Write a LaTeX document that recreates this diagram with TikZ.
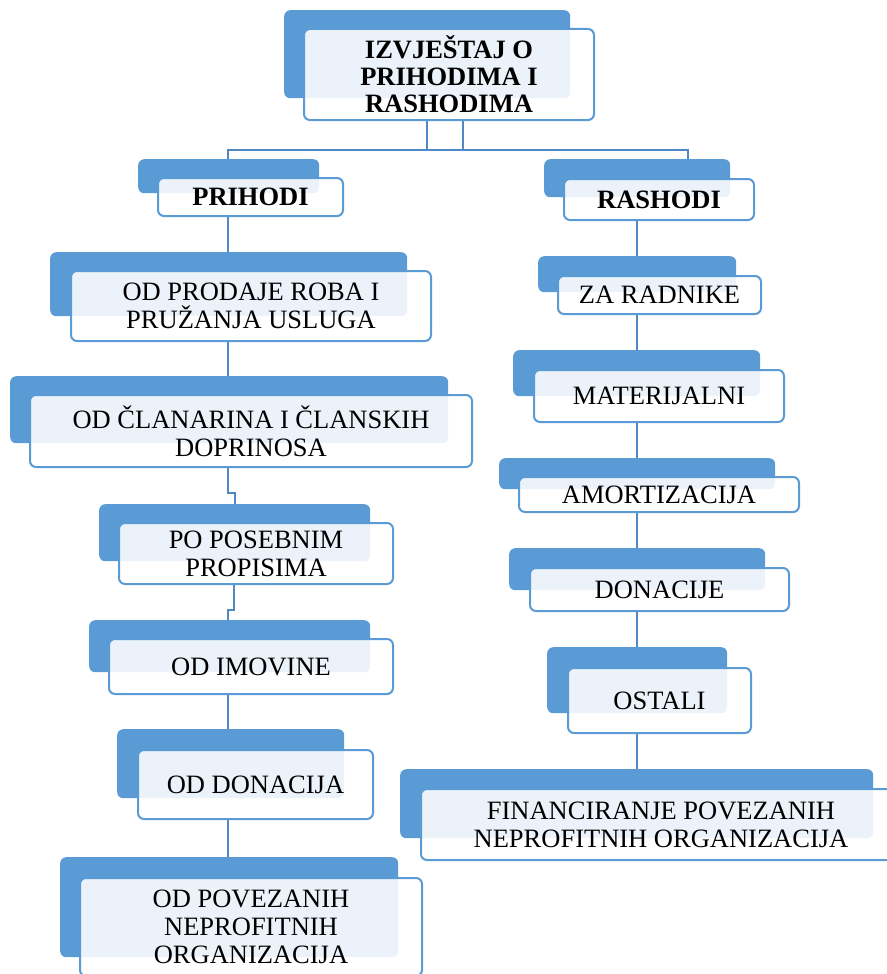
\documentclass[tikz,border=0pt]{standalone}
\usepackage{fontspec}
\setmainfont{Liberation Serif}
\usetikzlibrary{backgrounds}
\definecolor{bk}{HTML}{5B9BD5}
\definecolor{ln}{HTML}{5088C6}
\tikzset{
  backbox/.style={fill=bk, draw=none, rounded corners=6pt, inner sep=0pt, anchor=north west},
  frontbox/.style={draw=bk, line width=2pt, fill=white, fill opacity=0.88, text opacity=1,
    rounded corners=6pt, inner sep=0pt, anchor=north west, align=center,
    font=\fontsize{26.5}{28}\selectfont},
  conn/.style={draw=ln, line width=2.5pt}
}
\begin{document}
\begin{tikzpicture}[x=1pt,y=-1pt]
\useasboundingbox (0,0) rectangle (886,974);
% title
\node[backbox, minimum width=286pt, minimum height=88pt] (titleb) at (284,10) {};
\node[frontbox, minimum width=290pt, minimum height=91pt, font=\fontsize{26.5}{27}\selectfont\bfseries] (title) at (303,28) {IZVJEŠTAJ O\\PRIHODIMA I\\RASHODIMA};
% left column
\node[backbox, minimum width=181pt, minimum height=34pt] (prihb) at (138,159) {};
\node[frontbox, minimum width=185pt, minimum height=38pt, font=\fontsize{26.5}{28}\selectfont\bfseries] (prih) at (157,177) {PRIHODI};
\node[backbox, minimum width=357pt, minimum height=64pt] (b1b) at (50,252) {};
\node[frontbox, minimum width=360pt, minimum height=70pt] (b1) at (70,270) {OD PRODAJE ROBA I\\PRUŽANJA USLUGA};
\node[backbox, minimum width=438pt, minimum height=67pt] (b2b) at (10,376) {};
\node[frontbox, minimum width=442pt, minimum height=72pt] (b2) at (29,394) {OD ČLANARINA I ČLANSKIH\\DOPRINOSA};
\node[backbox, minimum width=271pt, minimum height=57pt] (b3b) at (99,504) {};
\node[frontbox, minimum width=274pt, minimum height=61pt] (b3) at (118,522) {PO POSEBNIM\\PROPISIMA};
\node[backbox, minimum width=281pt, minimum height=52pt] (b4b) at (89,620) {};
\node[frontbox, minimum width=284pt, minimum height=55pt] (b4) at (108,638) {OD IMOVINE};
\node[backbox, minimum width=227pt, minimum height=69pt] (b5b) at (117,729) {};
\node[frontbox, minimum width=235pt, minimum height=69pt] (b5) at (137,749) {OD DONACIJA};
\node[backbox, minimum width=338pt, minimum height=100pt] (b6b) at (60,857) {};
\node[frontbox, minimum width=342pt, minimum height=98pt] (b6) at (79,877) {OD POVEZANIH\\NEPROFITNIH\\ORGANIZACIJA};
% right column
\node[backbox, minimum width=186pt, minimum height=38pt] (rashb) at (544,159) {};
\node[frontbox, minimum width=190pt, minimum height=41pt, font=\fontsize{26.5}{28}\selectfont\bfseries] (rash) at (563,178) {RASHODI};
\node[backbox, minimum width=198pt, minimum height=36pt] (r1b) at (538,256) {};
\node[frontbox, minimum width=203pt, minimum height=38pt] (r1) at (557,275) {ZA RADNIKE};
\node[backbox, minimum width=247pt, minimum height=46pt] (r2b) at (513,350) {};
\node[frontbox, minimum width=250pt, minimum height=52pt] (r2) at (533,369) {MATERIJALNI};
\node[backbox, minimum width=276pt, minimum height=31pt] (r3b) at (499,458) {};
\node[frontbox, minimum width=280pt, minimum height=35pt] (r3) at (518,476) {AMORTIZACIJA};
\node[backbox, minimum width=256pt, minimum height=42pt] (r4b) at (509,548) {};
\node[frontbox, minimum width=259pt, minimum height=43pt] (r4) at (529,567) {DONACIJE};
\node[backbox, minimum width=180pt, minimum height=66pt] (r5b) at (547,647) {};
\node[frontbox, minimum width=183pt, minimum height=65pt] (r5) at (567,667) {OSTALI};
\node[backbox, minimum width=473pt, minimum height=69pt] (r6b) at (400,769) {};
\node[frontbox, minimum width=480pt, minimum height=71pt] (r6) at (420,788) {FINANCIRANJE POVEZANIH\\NEPROFITNIH ORGANIZACIJA};
% connector helper coordinates
\coordinate (ta) at (427,150);
\coordinate (tb) at (463,150);
\coordinate (hl) at (228,150);
\coordinate (hr) at (688,150);
\coordinate (cl) at (228,0);
\coordinate (cr) at (637,0);
\coordinate (j1a) at (228,493);
\coordinate (j1b) at (235,493);
\coordinate (j2a) at (234,610);
\coordinate (j2b) at (228,610);
\begin{pgfonlayer}{background}
\draw[conn] (title.south -| ta) -- (ta);
\draw[conn] (title.south -| tb) -- (tb);
\draw[conn] (prihb.north -| hl) -- (hl) -- (hr) -- (rashb.north -| hr);
\draw[conn] (prih.south -| cl) -- (b1b.north -| cl);
\draw[conn] (b1.south -| cl) -- (b2b.north -| cl);
\draw[conn] (b2.south -| j1a) -- (j1a) -- (j1b) -- (b3b.north -| j1b);
\draw[conn] (b3.south -| j2a) -- (j2a) -- (j2b) -- (b4b.north -| j2b);
\draw[conn] (b4.south -| cl) -- (b5b.north -| cl);
\draw[conn] (b5.south -| cl) -- (b6b.north -| cl);
\draw[conn] (rash.south -| cr) -- (r1b.north -| cr);
\draw[conn] (r1.south -| cr) -- (r2b.north -| cr);
\draw[conn] (r2.south -| cr) -- (r3b.north -| cr);
\draw[conn] (r3.south -| cr) -- (r4b.north -| cr);
\draw[conn] (r4.south -| cr) -- (r5b.north -| cr);
\draw[conn] (r5.south -| cr) -- (r6b.north -| cr);
\end{pgfonlayer}
\end{tikzpicture}
\end{document}
